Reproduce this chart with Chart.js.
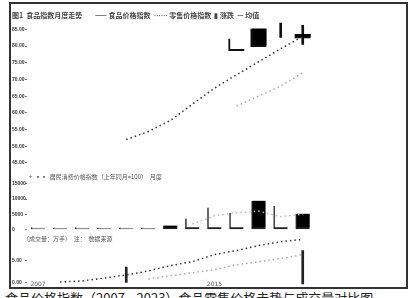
<!DOCTYPE html>
<html>
<head>
<meta charset="utf-8">
<script src="https://cdn.jsdelivr.net/npm/chart.js@4.4.1/dist/chart.umd.min.js"></script>
<style>
  html, body { margin: 0; padding: 0; background: #fff; width: 408px; height: 298px; overflow: hidden; }
  #frame { position: absolute; left: 9px; top: 2px; width: 395px; height: 283px; border: 2px solid #333; overflow: hidden; }
  #chart { display: block; }
  #caption { position: absolute; left: 5px; top: 288px; font: 13px "Noto Sans CJK SC"; color: #222; white-space: nowrap; }
</style>
</head>
<body>
<div id="frame"><canvas id="chart" width="395" height="289"></canvas></div>
<div id="caption">食品价格指数（2007—2023）食品零售价格走势与成交量对比图</div>
<script>
// categories
const years = ['2007','2008','2009','2010','2011','2012','2013','2014','2015',
               '2016','2017','2018','2019','2020','2021','2022','2023'];

// top panel: index values
const indexMain = [null, null, null, null, 52.0, 54.4, 57.7, 62.6, 67.4, 71.4, 75.3, 79.2, 82.9, null, null, null, null];
const indexSub  = [null, null, null, null, null, null, null, null, null, 62.0, 65.0, 68.0, 72.0, null, null, null, null];
const bodyRange = [null, null, null, null, null, null, null, null, null, [78.6, 82.3], [79.8, 85.3], null, [82.4, 83.6], null, null, null, null];
const wickRange = [null, null, null, null, null, null, null, null, null, null, null, [82.6, 87.0], [80.5, 86.2], null, null, null, null];

// middle panel: volume
const volume    = [700, 600, 700, 600, 650, 600, 1300, 3600, 7200, 5500, 9500, 7800, 5200, null, null, null, null];
const volumeAvg = [null, null, null, null, null, null, null, 1800, 4500, 5500, 6000, 4200, 5000, null, null, null, null];

// bottom panel: growth
const growthA = [null, 0.2, 0.45, 1.1, 1.8, 2.7, 3.9, 4.8, 6.4, 7.3, 8.4, 9.3, 9.8, null, null, null, null];
const growthB = [null, null, null, null, null, 0.9, 1.6, 2.3, 3.0, 4.1, 4.8, 5.5, 6.4, null, null, null, null];
const growthRange = [null, null, null, null, [0, 3.6], null, null, null, null, null, null, null, [-0.2, 7.3], null, null, null, null];

const topTicks = [45, 50, 55, 60, 65, 70, 75, 80, 85];
const volTicks = [0, 5000, 10000, 15000];
const growthTicks = [0, 5];

const topNote = '+  ▪▪  居民消费价格指数（上年同月=100）  月度';
const volNote = '（成交量：万手）  注：  数据来源';

const solidBars = [6, 10, 12];
const tickFont = { family: 'Liberation Sans', size: 5, weight: 'bold' };

function keepTicks(list) {
  return scale => { scale.ticks = list.map(v => ({ value: v })); };
}

const panelNotes = {
  id: 'panelNotes',
  afterDraw(chart) {
    const { ctx, scales } = chart;
    ctx.save();
    ctx.font = '6px "Noto Sans CJK SC"';
    ctx.fillStyle = '#555';
    ctx.textBaseline = 'middle';
    ctx.fillText(topNote, scales.x.left + 2, scales.y2.top + 3);
    ctx.fillText(volNote, scales.x.left - 4, scales.y3.top + 5);
    ctx.restore();
  }
};

const dotted = (data, color, axis) => ({
  type: 'line', data, yAxisID: axis, borderColor: color, borderWidth: 1.5,
  borderDash: [1.5, 3], pointRadius: 0, fill: false, order: 0
});

const yTicks = fmt => ({ font: tickFont, color: '#333', crossAlign: 'far', padding: 1, autoSkip: false, callback: fmt });
const yGrid = { drawOnChartArea: false, tickLength: 2, color: '#777' };
const fixWidth = s => { s.width = 15; };

new Chart(document.getElementById('chart'), {
  data: {
    labels: years,
    datasets: [
      dotted(indexMain, '#333', 'y'),
      dotted(indexSub, '#aaa', 'y'),
      {
        type: 'bar', data: bodyRange, yAxisID: 'y', barThickness: 16,
        backgroundColor: ctx => ctx.dataIndex === 9 ? '#fff' : '#000',
        borderColor: '#111', borderWidth: { left: 2, bottom: 2, top: 0, right: 0 },
        borderSkipped: false, grouped: false, order: 1
      },
      {
        type: 'bar', data: wickRange, yAxisID: 'y', barThickness: 2,
        backgroundColor: '#111', grouped: false, order: 2
      },
      {
        type: 'bar', data: volume, yAxisID: 'y2', barThickness: 14,
        backgroundColor: ctx => solidBars.includes(ctx.dataIndex) ? '#000' : '#fff',
        borderColor: '#222', borderWidth: { left: 1.5, bottom: 2, top: 0, right: 0 },
        borderSkipped: false, grouped: false, order: 3
      },
      dotted(volumeAvg, '#bbb', 'y2'),
      dotted(growthA, '#333', 'y3'),
      dotted(growthB, '#aaa', 'y3'),
      {
        type: 'bar', data: growthRange, yAxisID: 'y3', barThickness: 2,
        backgroundColor: '#222', grouped: false, order: 4
      }
    ]
  },
  options: {
    responsive: false,
    animation: false,
    layout: { padding: { left: 1, right: 4, top: 0, bottom: 0 } },
    plugins: {
      legend: { display: false },
      tooltip: { enabled: false },
      title: {
        display: true, align: 'start', color: '#444',
        text: '图1  食品指数月度走势        —— 食品价格指数  …… 零售价格指数  ▮ 涨跌  — 均值',
        font: { family: 'Noto Sans CJK SC', size: 7 },
        padding: { top: 7, bottom: 3 }
      }
    },
    scales: {
      x: {
        type: 'category', offset: true,
        grid: { display: false, tickLength: 0 }, border: { display: false },
        ticks: {
          autoSkip: false, maxRotation: 0, font: { family: 'DejaVu Sans', size: 6 }, color: '#555', padding: -8,
          callback: (v, i) => (i === 0 || i === 8) ? years[i] : ''
        }
      },
      // stacked panels: defined bottom first
      y3: {
        stack: 'panels', stackWeight: 55, position: 'left',
        min: -1.36, max: 11.14,
        afterBuildTicks: keepTicks(growthTicks), afterFit: fixWidth,
        grid: yGrid, border: { display: false },
        ticks: yTicks(v => v.toFixed(2))
      },
      y2: {
        stack: 'panels', stackWeight: 59, position: 'left',
        min: -1333, max: 18333,
        afterBuildTicks: keepTicks(volTicks), afterFit: fixWidth,
        grid: yGrid, border: { display: false },
        ticks: yTicks(v => String(v))
      },
      y: {
        stack: 'panels', stackWeight: 150, position: 'left',
        min: 41.7, max: 87.1,
        afterBuildTicks: keepTicks(topTicks), afterFit: fixWidth,
        grid: yGrid, border: { display: false },
        ticks: yTicks(v => v.toFixed(2))
      }
    }
  },
  plugins: [panelNotes]
});
</script>
</body>
</html>
